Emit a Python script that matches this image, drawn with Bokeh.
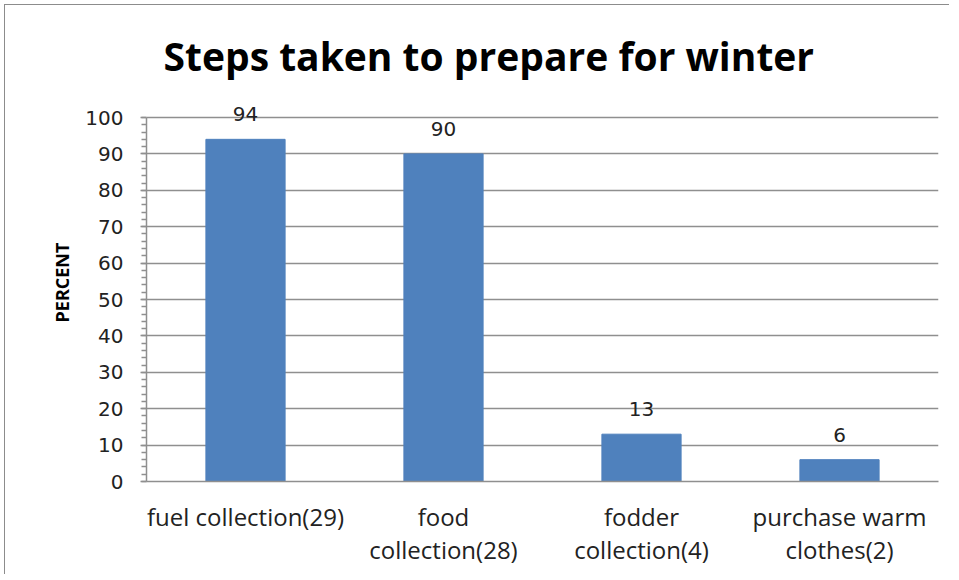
from bokeh.plotting import figure
from bokeh.models import ColumnDataSource, Range1d, FixedTicker, LabelSet
from bokeh.core.properties import value
from bokeh.embed import file_html
from bokeh.resources import INLINE

categories = ["fuel collection(29)", "food\ncollection(28)", "fodder\ncollection(4)", "purchase warm\nclothes(2)"]
values = [94, 90, 13, 6]
value_labels = ["94", "90", "13", "6"]
y_ticks = [0, 10, 20, 30, 40, 50, 60, 70, 80, 90, 100]
y_minor = list(range(0, 101, 2))

src = ColumnDataSource(dict(cat=categories, val=values, lab=value_labels))

# frame extends above the 100 gridline (axis bounded to 0..100) so labels fit
y_top = 100 * (481 - 83) / (481 - 117)

p = figure(width=945, height=570, x_range=categories, y_range=Range1d(0, y_top),
           output_backend="svg", toolbar_location=None,
           min_border_left=141, min_border_right=12, min_border_top=78, min_border_bottom=94)
p.styles = {"margin-left": "4px", "margin-top": "4px",
            "border-top": "1px solid #8c8c8c", "border-left": "1px solid #8c8c8c"}
p.outline_line_color = None
p.background_fill_color = "white"

p.title.text = "Steps taken to prepare for winter"
p.title.align = "left"
p.title.offset = 17
p.title.standoff = 4
p.title.text_font = "Open Sans"
p.title.text_font_style = "bold"
p.title.text_font_size = "39px"
p.title.text_color = "#000000"

p.vbar(x="cat", top="val", width=0.4, source=src, fill_color="#4F81BD", line_color="#4F81BD")

labels = LabelSet(x="cat", y="val", text="lab", source=src, text_align="center",
                  text_baseline="alphabetic", y_offset=18, text_font_size=value("20px"),
                  text_font=value("DejaVu Sans"), text_color="#222222")
p.add_layout(labels)

p.xgrid.grid_line_color = None
p.ygrid.grid_line_color = "#8f8f8f"
p.ygrid.grid_line_width = 1.5

p.yaxis.bounds = (0, 100)
p.yaxis.ticker = FixedTicker(ticks=y_ticks, minor_ticks=y_minor)
p.yaxis.axis_line_color = "#8f8f8f"
p.yaxis.axis_line_width = 1.5
p.yaxis.major_tick_line_color = "#8f8f8f"
p.yaxis.major_tick_line_width = 1.5
p.yaxis.major_tick_out = 6
p.yaxis.major_tick_in = 0
p.yaxis.minor_tick_line_color = "#8f8f8f"
p.yaxis.minor_tick_line_width = 1.5
p.yaxis.minor_tick_out = 5
p.yaxis.minor_tick_in = 0
p.yaxis.major_label_text_font = "DejaVu Sans"
p.yaxis.major_label_text_font_size = "20px"
p.yaxis.major_label_text_color = "#222222"
p.yaxis.major_label_standoff = 17
p.yaxis.axis_label = "PERCENT"
p.yaxis.axis_label_text_font = "Open Sans"
p.yaxis.axis_label_text_font_style = "bold"
p.yaxis.axis_label_text_font_size = "18px"
p.yaxis.axis_label_text_color = "#000000"
p.yaxis.axis_label_standoff = 8

p.xaxis.axis_line_color = "#8f8f8f"
p.xaxis.axis_line_width = 1.5
p.xaxis.major_tick_line_color = None
p.xaxis.minor_tick_line_color = None
p.xaxis.major_label_text_font = "Open Sans"
p.xaxis.major_label_text_font_size = "24px"
p.xaxis.major_label_text_color = "#222222"
p.xaxis.major_label_standoff = 12
p.xaxis.major_label_text_line_height = 1.0

open("out.html", "w").write(file_html(p, INLINE))
